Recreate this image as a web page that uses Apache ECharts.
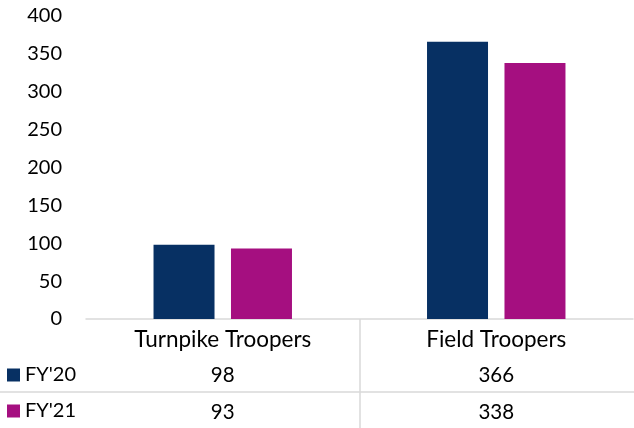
<!DOCTYPE html>
<html><head><meta charset="utf-8">
<script src="https://cdn.jsdelivr.net/npm/echarts@6/dist/echarts.min.js"></script>
<style>html,body{margin:0;padding:0;background:#fff}#c{width:634px;height:428px}</style>
</head><body><div id="c"></div>
<script>
const categories = ['Turnpike Troopers', 'Field Troopers'];
const seriesNames = ["FY'20", "FY'21"];
const fy20 = [98, 366];
const fy21 = [93, 338];
const yMin = 0, yMax = 400, yStep = 50;

const FONT = 'Lato';
const TXT = '#000';
const LINE = '#d9d9d9';
const chart = echarts.init(document.getElementById('c'), null, {renderer: 'canvas'});
chart.setOption({
  animation: false,
  backgroundColor: '#fff',
  textStyle: {fontFamily: FONT},
  legend: {
    orient: 'vertical', left: 7, top: 365, padding: 0,
    itemWidth: 13, itemHeight: 13, itemGap: 16, icon: 'rect',
    textStyle: {fontFamily: FONT, fontSize: 20, lineHeight: 20, color: TXT},
    data: seriesNames
  },
  grid: [
    {left: 86, right: 1, top: 16, bottom: 109},
    {left: 0, right: 0, top: 300, bottom: 36}
  ],
  xAxis: [
    {
      type: 'category', gridIndex: 0, data: categories, position: 'bottom',
      axisLine: {show: true, lineStyle: {color: LINE, width: 1.5}},
      axisTick: {show: false},
      axisLabel: {
        margin: 2, color: TXT,
        formatter: function (v, i) { return '{c|' + v + '}\n{n|' + fy20[i] + '}\n{n|' + fy21[i] + '}'; },
        rich: {
          c: {fontFamily: FONT, fontSize: 22.5, lineHeight: 36.5, color: TXT},
          n: {fontFamily: FONT, fontSize: 20.5, lineHeight: 36.5, color: TXT}
        }
      }
    },
    {
      type: 'value', gridIndex: 0, min: 0, max: 2, position: 'bottom',
      axisLine: {show: false}, splitLine: {show: false}, axisLabel: {show: false},
      axisTick: {show: true, customValues: [1], length: 109, inside: false, lineStyle: {color: LINE, width: 1.5}}
    },
    {
      type: 'value', gridIndex: 1, min: 0, max: 1, position: 'bottom',
      axisLine: {show: true, lineStyle: {color: LINE, width: 1.5}},
      axisTick: {show: false}, axisLabel: {show: false}, splitLine: {show: false}
    }
  ],
  yAxis: [
    {
      type: 'value', gridIndex: 0, min: yMin, max: yMax, interval: yStep,
      axisLine: {show: false}, axisTick: {show: false}, splitLine: {show: false},
      axisLabel: {margin: 24, fontFamily: FONT, fontSize: 20, color: TXT}
    },
    {type: 'value', gridIndex: 1, show: false, min: 0, max: 1}
  ],
  series: [
    {name: seriesNames[0], type: 'bar', xAxisIndex: 0, yAxisIndex: 0, data: fy20,
     barWidth: '22.3%', barGap: '27%', itemStyle: {color: '#073063'}},
    {name: seriesNames[1], type: 'bar', xAxisIndex: 0, yAxisIndex: 0, data: fy21,
     barWidth: '22.3%', barGap: '27%', itemStyle: {color: '#A50F80'}}
  ]
});
</script>
</body></html>
